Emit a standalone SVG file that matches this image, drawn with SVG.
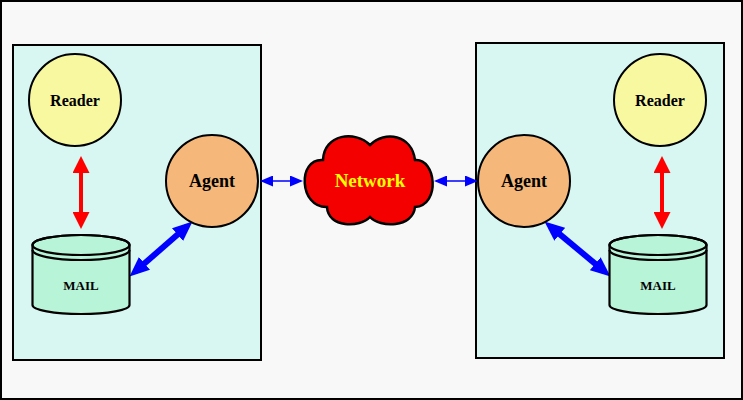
<svg xmlns="http://www.w3.org/2000/svg" width="743" height="400" viewBox="0 0 743 400">
<defs>
<style>
.box{fill:#d8f6f2;stroke:#000;stroke-width:2}
.reader{fill:#f8f8a0;stroke:#000;stroke-width:2}
.agent{fill:#f5b87a;stroke:#000;stroke-width:2}
.mail{fill:#b8f4d8;stroke:#000;stroke-width:2.2}
.mailline{fill:none;stroke:#000;stroke-width:2.2}
.t{font-family:"Liberation Serif","Times New Roman",serif;font-weight:bold;text-anchor:middle;fill:#000}
.red{stroke:#ff0000;stroke-width:4;fill:none}
.blueT{stroke:#0000ff;stroke-width:6;fill:none}
.blue{stroke:#0000ff;stroke-width:1.5;fill:none}
</style>
<marker id="hRed" markerUnits="userSpaceOnUse" viewBox="0 0 17 17" markerWidth="17" markerHeight="17" refX="10" refY="8.5" orient="auto-start-reverse"><path d="M0,0 L17,8.5 L0,17 Z" fill="#ff0000"/></marker>
<marker id="hBlueT" markerUnits="userSpaceOnUse" viewBox="0 0 20 17" markerWidth="20" markerHeight="17" refX="12" refY="8.5" orient="auto-start-reverse"><path d="M0,0 L20,8.5 L0,17 Z" fill="#0000ff"/></marker>
<marker id="hBlue" markerUnits="userSpaceOnUse" viewBox="0 0 13 11" markerWidth="13" markerHeight="11" refX="11" refY="5.5" orient="auto-start-reverse"><path d="M0,0 L13,5.5 L0,11 Z" fill="#0000ff"/></marker>
</defs>
<rect x="1" y="1" width="741" height="398" fill="#f8f8f8" stroke="#000" stroke-width="2"/>
<g id="hostA"><rect class="box" x="13" y="45" width="248" height="315"/></g>
<g id="hostB"><rect class="box" x="476" y="43" width="248" height="315"/></g>
<g id="connectors">
<line class="red" x1="81" y1="163" x2="81" y2="222" marker-start="url(#hRed)" marker-end="url(#hRed)"/>
<line class="red" x1="662" y1="163" x2="662" y2="222" marker-start="url(#hRed)" marker-end="url(#hRed)"/>
<line class="blueT" x1="135.5" y1="271.3" x2="186.5" y2="226.7" marker-start="url(#hBlueT)" marker-end="url(#hBlueT)"/>
<line class="blueT" x1="550.6" y1="226.6" x2="604.4" y2="271.4" marker-start="url(#hBlueT)" marker-end="url(#hBlueT)"/>
<line class="blue" x1="262" y1="181" x2="301" y2="181" marker-start="url(#hBlue)" marker-end="url(#hBlue)"/>
<line class="blue" x1="436" y1="181" x2="476" y2="181" marker-start="url(#hBlue)" marker-end="url(#hBlue)"/>
</g>
<g id="readerA"><circle class="reader" cx="75" cy="100" r="46"/><text class="t" x="75" y="106" font-size="16">Reader</text></g>
<g id="readerB"><circle class="reader" cx="660" cy="100" r="46"/><text class="t" x="660" y="106" font-size="16">Reader</text></g>
<g id="agentA"><circle class="agent" cx="212" cy="181" r="46"/><text class="t" x="212" y="187" font-size="18">Agent</text></g>
<g id="agentB"><circle class="agent" cx="524" cy="181" r="46"/><text class="t" x="524" y="187" font-size="18">Agent</text></g>
<g id="mailA">
<path class="mail" d="M32.5,245 A48.5,10 0 0 1 129.5,245 L129.5,305 A48.5,9 0 0 1 32.5,305 Z"/>
<ellipse class="mailline" cx="81" cy="245" rx="48.5" ry="10"/>
<path class="mailline" d="M32.5,250 A48.5,10 0 0 0 129.5,250"/>
<text class="t" x="81" y="290" font-size="13">MAIL</text>
</g>
<g id="mailB">
<path class="mail" d="M609.5,245 A48.5,10 0 0 1 706.5,245 L706.5,305 A48.5,9 0 0 1 609.5,305 Z"/>
<ellipse class="mailline" cx="658" cy="245" rx="48.5" ry="10"/>
<path class="mailline" d="M609.5,250 A48.5,10 0 0 0 706.5,250"/>
<text class="t" x="658" y="290" font-size="13">MAIL</text>
</g>
<g id="network">
<path d="M370,145 C385,130 412,135 415,160 C436,158 441,205 415,207 C413,228 380,228 370,217 C360,228 328,228 327,207 C299,208 297,158 323,160 C324,134 355,130 370,145 Z" fill="#f50000" stroke="#000" stroke-width="2.5"/>
<text class="t" x="370" y="187" font-size="19" fill="#ffff00" style="fill:#ffff00">Network</text>
</g>
</svg>
